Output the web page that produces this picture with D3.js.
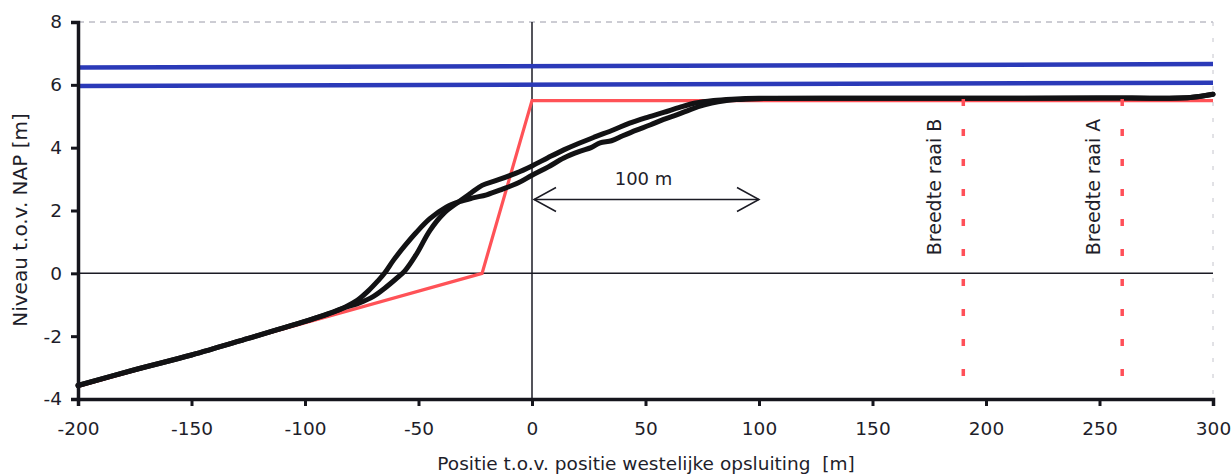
<!DOCTYPE html>
<html>
<head>
<meta charset="utf-8">
<script src="https://cdn.jsdelivr.net/npm/d3@7"></script>
<style>
  body { margin: 0; background: #fff; }
  svg { display: block; }
  text { font-family: "DejaVu Sans", sans-serif; fill: #1e1e2a; white-space: pre; }
</style>
</head>
<body>
<svg id="chart" width="1232" height="476"></svg>
<script>
// profile measured (two surveys) - [x, niveau]
const profileA = [
  [-200, -3.57], [-175, -3.07], [-150, -2.6], [-125, -2.07], [-100, -1.53], [-90, -1.29],
  [-82, -1.06], [-77, -0.86], [-72, -0.55], [-68, -0.25], [-65, 0], [-61, 0.42], [-56, 0.88],
  [-51, 1.3], [-45, 1.74], [-38, 2.1], [-32, 2.28], [-26, 2.4], [-20, 2.5], [-13, 2.68],
  [-6, 2.88], [0, 3.12], [7, 3.38], [14, 3.67], [21, 3.88], [26, 4.0], [30, 4.15], [35, 4.22],
  [40, 4.38], [46, 4.56], [52, 4.72], [58, 4.9], [64, 5.05], [70, 5.22], [76, 5.36], [82, 5.46],
  [90, 5.53], [100, 5.56], [150, 5.57], [200, 5.57], [250, 5.58], [290, 5.6], [300, 5.7]
];
const profileB = [
  [-200, -3.57], [-175, -3.07], [-150, -2.6], [-125, -2.07], [-100, -1.53], [-90, -1.3],
  [-82, -1.08], [-76, -0.94], [-70, -0.74], [-65, -0.48], [-60, -0.18], [-56, 0.08],
  [-51, 0.6], [-45, 1.36], [-39, 1.9], [-33, 2.24], [-27, 2.55], [-22, 2.8], [-16, 2.95],
  [-7, 3.19], [0, 3.42], [7, 3.68], [14, 3.93], [21, 4.15], [28, 4.35], [36, 4.57],
  [43, 4.78], [50, 4.95], [58, 5.12], [65, 5.28], [72, 5.42], [80, 5.5], [88, 5.54],
  [100, 5.57], [150, 5.57], [200, 5.57], [250, 5.58], [290, 5.6], [300, 5.7]
];
// design profile (red)
const designProfile = [[-200, -3.6], [-22, 0], [0, 5.5], [300, 5.5]];
// water levels (blue)
const levelHigh = [[-200, 6.55], [300, 6.66]];
const levelLow = [[-200, 5.96], [300, 6.07]];
// width markers
const raaiX = [190, 260];
const raaiLabels = ['Breedte raai B', 'Breedte raai A'];
const raaiTop = 5.55;
// 100 m arrow
const arrowFrom = 0, arrowTo = 100, arrowLevel = 2.35;
const arrowLabel = '100 m';

const xTicks = [-200, -150, -100, -50, 0, 50, 100, 150, 200, 250, 300];
const yTicks = [-4, -2, 0, 2, 4, 6, 8];

const svg = d3.select('#chart');
const x = d3.scaleLinear().domain([-200, 300]).range([78, 1213]);
const y = d3.scaleLinear().domain([-4, 8]).range([399, 22]);

const line = d3.line().x(d => x(d[0])).y(d => y(d[1]));
const smooth = d3.line().x(d => x(d[0])).y(d => y(d[1])).curve(d3.curveCatmullRom.alpha(0.5));

// faint frame top / right
svg.append('line')
  .attr('x1', x(-200)).attr('x2', x(300)).attr('y1', y(8)).attr('y2', y(8))
  .attr('stroke', '#9a9aa8').attr('stroke-width', 1).attr('stroke-dasharray', '6,5');
svg.append('line')
  .attr('x1', x(300)).attr('x2', x(300)).attr('y1', y(8)).attr('y2', y(-4))
  .attr('stroke', '#c4c4cc').attr('stroke-width', 1).attr('stroke-dasharray', '4,12');

// zero lines
svg.append('line')
  .attr('x1', x(-200)).attr('x2', x(300)).attr('y1', y(0)).attr('y2', y(0))
  .attr('stroke', '#1b1b24').attr('stroke-width', 1.5);
svg.append('line')
  .attr('x1', x(0)).attr('x2', x(0)).attr('y1', y(8)).attr('y2', y(-4))
  .attr('stroke', '#1b1b24').attr('stroke-width', 1.5);

// water levels
[levelHigh, levelLow].forEach(d => {
  svg.append('path').attr('d', line(d))
    .attr('fill', 'none').attr('stroke', '#2b3ab8').attr('stroke-width', 4.5);
});

// design
svg.append('path').attr('d', line(designProfile))
  .attr('fill', 'none').attr('stroke', '#ff5257').attr('stroke-width', 3.2);

// measured profiles
[profileA, profileB].forEach(d => {
  svg.append('path').attr('d', smooth(d))
    .attr('fill', 'none').attr('stroke', '#121214').attr('stroke-width', 5)
    .attr('stroke-linecap', 'round').attr('stroke-linejoin', 'round');
});

// arrow 100 m
const ay = y(arrowLevel);
svg.append('line')
  .attr('x1', x(arrowFrom) + 2).attr('x2', x(arrowTo)).attr('y1', ay).attr('y2', ay)
  .attr('stroke', '#1b1b24').attr('stroke-width', 1.5);
svg.append('path')
  .attr('d', `M${x(arrowFrom) + 24},${ay - 12}L${x(arrowFrom) + 2},${ay}L${x(arrowFrom) + 24},${ay + 12}`)
  .attr('fill', 'none').attr('stroke', '#1b1b24').attr('stroke-width', 1.5);
svg.append('path')
  .attr('d', `M${x(arrowTo) - 22},${ay - 12}L${x(arrowTo)},${ay}L${x(arrowTo) - 22},${ay + 12}`)
  .attr('fill', 'none').attr('stroke', '#1b1b24').attr('stroke-width', 1.5);
svg.append('text')
  .attr('x', (x(arrowFrom) + x(arrowTo)) / 2 - 2).attr('y', ay - 15)
  .attr('text-anchor', 'middle').style('font-size', '18px')
  .text(arrowLabel);

// width markers
raaiX.forEach((v, i) => {
  svg.append('line')
    .attr('x1', x(v)).attr('x2', x(v)).attr('y1', y(raaiTop)).attr('y2', y(-4))
    .attr('stroke', '#ff4f58').attr('stroke-width', 3.5).attr('stroke-dasharray', '7,23');
  svg.append('text')
    .attr('transform', `translate(${x(v) - 22},${y(2.75)}) rotate(-90)`)
    .attr('text-anchor', 'middle').style('font-size', '19px')
    .text(raaiLabels[i]);
});

// axes
const xAxis = svg.append('g').attr('transform', `translate(0,${y(-4)})`)
  .call(d3.axisBottom(x).tickValues(xTicks).tickFormat(d => String(d)).tickSize(7).tickPadding(16));
const yAxis = svg.append('g').attr('transform', `translate(${x(-200)},0)`)
  .call(d3.axisLeft(y).tickValues(yTicks).tickFormat(d => String(d)).tickSize(7).tickPadding(9));
[xAxis, yAxis].forEach(g => {
  g.select('.domain').attr('stroke', '#15151c').attr('stroke-width', 3.5);
  g.selectAll('.tick line').attr('stroke', '#15151c').attr('stroke-width', 3);
  g.selectAll('.tick text').style('font-size', '18.5px')
    .style('font-family', '"DejaVu Sans", sans-serif').attr('fill', '#1e1e2a');
});

svg.append('text')
  .attr('x', 646).attr('y', 470).attr('text-anchor', 'middle')
  .style('font-size', '18.5px')
  .text('Positie t.o.v. positie westelijke opsluiting  [m]');
svg.append('text')
  .attr('transform', 'translate(27,220) rotate(-90)')
  .attr('text-anchor', 'middle').style('font-size', '20px')
  .text('Niveau t.o.v. NAP [m]');
</script>
</body>
</html>
